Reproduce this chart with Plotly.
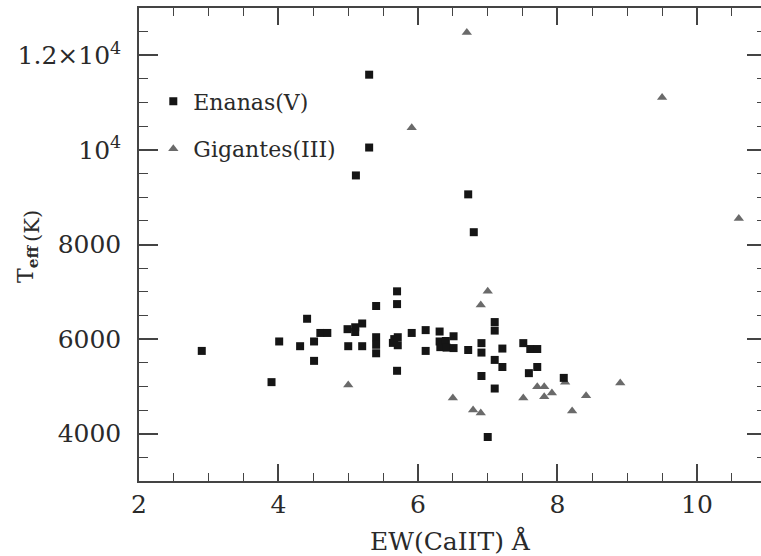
import plotly.graph_objects as go

# Equivalent width of the Ca II triplet (Å) vs. effective temperature (K)
enanas_ew = [2.90, 3.90, 4.01, 4.31, 4.41, 4.51, 4.51, 4.60, 4.70, 4.99,
             5.00, 5.10, 5.10, 5.20, 5.20, 5.11, 5.30, 5.30, 5.40, 5.40,
             5.40, 5.40, 5.64, 5.66, 5.71, 5.71, 5.70, 5.70, 5.70, 5.91,
             6.11, 6.11, 6.31, 6.31, 6.32, 6.40, 6.41, 6.51, 6.51, 6.72,
             6.72, 6.80, 6.91, 6.91, 6.91, 7.00, 7.10, 7.10, 7.10, 7.10,
             7.21, 7.21, 7.51, 7.61, 7.71, 7.71, 7.59, 8.09]
enanas_teff = [5750, 5090, 5950, 5850, 6430, 5950, 5540, 6130, 6130, 6210,
               5850, 6250, 6150, 6330, 5850, 9460, 11590, 10050, 6700, 6040,
               5880, 5700, 5920, 6000, 6040, 5870, 7010, 6740, 5330, 6130,
               6190, 5750, 6160, 5950, 5830, 5960, 5820, 6060, 5810, 5770,
               9060, 8260, 5915, 5715, 5220, 3930, 6360, 6180, 5560, 4955,
               5800, 5410, 5915, 5790, 5790, 5410, 5280, 5180]

gigantes_ew = [6.70, 5.91, 9.50, 10.60, 5.00, 7.00, 6.90, 6.50, 6.79, 6.90,
               7.51, 7.71, 7.81, 7.81, 7.92, 8.11, 8.21, 8.41, 8.90]
gigantes_teff = [12480, 10470, 11110, 8550, 5030, 7010, 6720, 4755, 4500, 4440,
                 4755, 4990, 4990, 4780, 4860, 5090, 4480, 4800, 5070]

x_ticks = [2, 4, 6, 8, 10]
x_ticktext = ["2", "4", "6", "8", "10"]
y_ticks = [4000, 6000, 8000, 10000, 12000]
y_ticktext = ["4000", "6000", "8000", "10<sup>4</sup>", "1.2×10<sup>4</sup>"]

FONT = "DejaVu Serif"
AXIS = "#444444"
TEXT = "#2a2a2a"

fig = go.Figure()

fig.add_trace(go.Scatter(
    x=gigantes_ew, y=gigantes_teff, mode="markers", name="Gigantes(III)",
    legendgroup="g", legendrank=2,
    marker=dict(symbol="triangle-up", size=9, color="#6a6a6a", line=dict(width=0)),
))
fig.add_trace(go.Scatter(
    x=enanas_ew, y=enanas_teff, mode="markers", name="Enanas(V)",
    legendgroup="e", legendrank=1,
    marker=dict(symbol="square", size=8, color="#151515", line=dict(width=0)),
))
# carrier for the right-hand tick axis
fig.add_trace(go.Scatter(x=[None], y=[None], yaxis="y2", showlegend=False,
                         hoverinfo="skip"))

y_range = [3000, 13000]

fig.update_layout(
    width=761, height=556,
    margin=dict(l=139, r=0, t=8, b=75),
    paper_bgcolor="white", plot_bgcolor="white",
    font=dict(family=FONT, color=TEXT),
    showlegend=True,
    legend=dict(
        x=0.023, y=0.847, xanchor="left", yanchor="top",
        bgcolor="rgba(0,0,0,0)", borderwidth=0,
        font=dict(family=FONT, size=22, color=TEXT),
        tracegroupgap=16,
    ),
    xaxis=dict(
        range=[2, 10.918], tickmode="array", tickvals=x_ticks, ticktext=x_ticktext,
        ticks="inside", ticklen=17, tickwidth=1.5, tickcolor=AXIS,
        showline=True, linewidth=1.5, linecolor=AXIS, mirror="ticks",
        showgrid=False, zeroline=False,
        tickfont=dict(family=FONT, size=25, color=TEXT),
        ticklabelstandoff=0,
        minor=dict(tickmode="linear", tick0=2, dtick=0.5, ticks="inside",
                   ticklen=8, tickwidth=1.2, tickcolor=AXIS, showgrid=False),
    ),
    yaxis=dict(
        range=y_range, tickmode="array", tickvals=y_ticks, ticktext=y_ticktext,
        ticks="inside", ticklen=19, tickwidth=1.5, tickcolor=AXIS,
        showline=True, linewidth=1.5, linecolor=AXIS,
        showgrid=False, zeroline=False,
        tickfont=dict(family=FONT, size=25, color=TEXT),
        ticklabelstandoff=11,
        minor=dict(tickmode="linear", tick0=3000, dtick=500, ticks="inside",
                   ticklen=9, tickwidth=1.2, tickcolor=AXIS, showgrid=False),
    ),
    yaxis2=dict(
        range=y_range, overlaying="y", side="right", anchor="x",
        tickmode="array", tickvals=y_ticks, showticklabels=False,
        ticks="inside", ticklen=14, tickwidth=1.5, tickcolor=AXIS,
        showline=False, showgrid=False, zeroline=False,
        minor=dict(tickmode="linear", tick0=3000, dtick=500, ticks="inside",
                   ticklen=4, tickwidth=1.2, tickcolor=AXIS, showgrid=False),
    ),
    annotations=[
        dict(text="EW(CaIIT) Å", xref="paper", yref="paper",
             x=0.50, y=-60 / 473, xanchor="center", yanchor="middle",
             showarrow=False, font=dict(family=FONT, size=25, color=TEXT)),
        dict(text="T<sub><b>eff</b></sub>", xref="paper", yref="paper",
             x=-112 / 622, y=1 - (264 - 8) / 473, xanchor="center", yanchor="middle",
             textangle=-90, showarrow=False,
             font=dict(family=FONT, size=22, color=TEXT)),
        dict(text="(K)", xref="paper", yref="paper",
             x=-107 / 622, y=1 - (226 - 8) / 473, xanchor="center", yanchor="middle",
             textangle=-90, showarrow=False,
             font=dict(family=FONT, size=21, color=TEXT)),
    ],
)

fig.write_html("out.html")
